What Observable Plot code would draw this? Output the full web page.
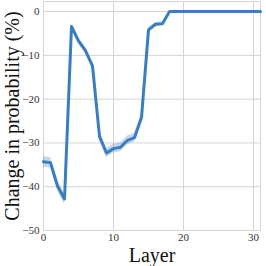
<!DOCTYPE html>
<html>
<head>
<meta charset="utf-8">
<script src="https://cdn.jsdelivr.net/npm/d3@7"></script>
<script src="https://cdn.jsdelivr.net/npm/@observablehq/plot@0.6"></script>
<style>
  html, body { margin: 0; padding: 0; background: #fff; }
  svg text { font-family: 'Liberation Serif', 'DejaVu Serif', serif; }
</style>
</head>
<body>
<div id="chart"></div>
<script>
const layers = d3.range(0, 32);
const change = [-34.3, -34.5, -39.8, -42.8, -3.4, -6.7, -8.9, -12.4, -28.5, -32.3,
  -31.3, -31.0, -29.4, -28.8, -24.2, -4.2, -2.9, -2.8, 0, 0,
  0, 0, 0, 0, 0, 0, 0, 0, 0, 0, 0, 0];
const ciHalf = [1.2, 1.2, 1.2, 1.2, 0.6, 0.7, 0.7, 0.7, 0.9, 1.0,
  1.0, 1.0, 1.0, 1.0, 0.9, 0.5, 0.4, 0.4, 0.1, 0.05,
  0.05, 0.05, 0.05, 0.05, 0.05, 0.05, 0.05, 0.05, 0.05, 0.05, 0.05, 0.05];
const xTicks = [0, 10, 20, 30];
const yTicks = [-50, -40, -30, -20, -10, 0];

const data = layers.map((l, i) => ({layer: l, v: change[i], lo: change[i] - ciHalf[i], hi: change[i] + ciHalf[i]}));

const blue = "#3a7ebf";
const font = "'Liberation Serif', 'DejaVu Serif', serif";

const chart = Plot.plot({
  width: 266,
  height: 266,
  marginLeft: 43,
  marginRight: 6,
  marginTop: 1,
  marginBottom: 36,
  style: {fontFamily: font, background: "#fff", color: "#222"},
  x: {domain: [0, 31], ticks: xTicks},
  y: {domain: [-50, 2.3], ticks: yTicks},
  marks: [
    Plot.gridX(xTicks, {stroke: "#d4d4d4", strokeOpacity: 1, strokeWidth: 1}),
    Plot.gridY(yTicks, {stroke: "#d4d4d4", strokeOpacity: 1, strokeWidth: 1}),
    Plot.frame({stroke: "#d4d4d4", strokeWidth: 1}),
    Plot.areaY(data, {x: "layer", y1: "lo", y2: "hi", fill: blue, fillOpacity: 0.3}),
    Plot.lineY(data, {x: "layer", y: "v", stroke: blue, strokeWidth: 3}),
    Plot.axisX({ticks: xTicks, tickSize: 0, tickPadding: 3, fontSize: 11, fontFamily: font, fill: "#333", label: null}),
    Plot.axisY({ticks: yTicks, tickSize: 0, tickPadding: 4, fontSize: 11, fontFamily: font, fill: "#333", label: null}),
    Plot.text(["Change in probability (%)"], {frameAnchor: "left", rotate: -90, dx: -31, fontSize: 20, fontFamily: font, textAnchor: "middle", lineAnchor: "middle", fill: "#111"}),
    Plot.text(["Layer"], {frameAnchor: "bottom", dy: 25.5, fontSize: 20, fontFamily: font, textAnchor: "middle", lineAnchor: "middle", fill: "#111"})
  ]
});
document.getElementById("chart").appendChild(chart);
</script>
</body>
</html>
